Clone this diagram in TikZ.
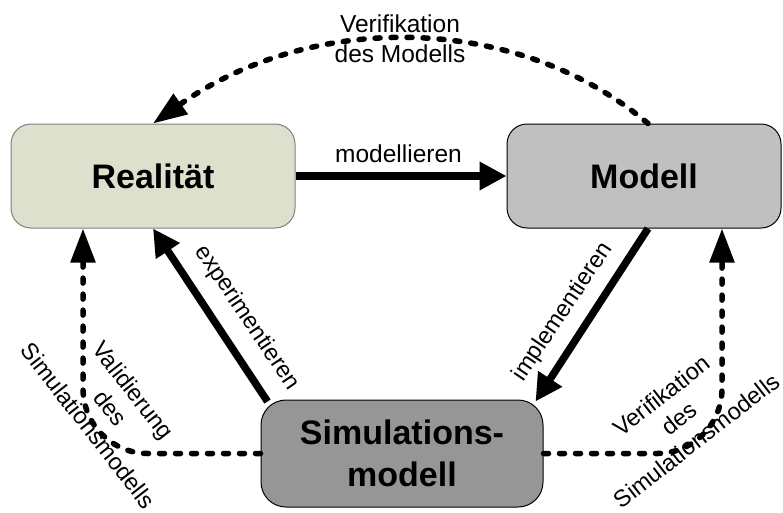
\documentclass[tikz,border=0pt]{standalone}
\usepackage{fontspec}
\setmainfont{Liberation Sans}
\usetikzlibrary{arrows.meta}
\definecolor{realfill}{RGB}{221,224,204}
\definecolor{realdraw}{RGB}{128,128,128}
\definecolor{modfill}{RGB}{192,192,192}
\definecolor{simfill}{RGB}{150,150,150}
\begin{document}
\begin{tikzpicture}[x=1pt,y=-1pt,
 box/.style={rounded corners=20pt, inner sep=0pt, font=\fontsize{34}{42}\selectfont\bfseries, align=center, line width=1pt},
 solidarrow/.style={line width=7.5pt, -{Triangle[length=27pt,width=27pt]}},
 dasharrow/.style={line width=5.5pt, dash pattern=on 5pt off 11pt, line cap=round, -{Triangle[length=34pt,width=24pt]}},
 lbl/.style={font=\fontsize{24.5}{30}\selectfont, inner sep=0pt, align=center},
 rlbl/.style={font=\fontsize{23.5}{28.5}\selectfont, inner sep=0pt, align=center}]
\useasboundingbox (0,0) rectangle (783,512);
\node[box, draw=realdraw, fill=realfill, minimum width=284pt, minimum height=104pt] (R) at (153,176) {Realität};
\node[box, draw=black, fill=modfill, minimum width=274pt, minimum height=104pt] (M) at (644,176) {Modell};
\node[box, draw=black, fill=simfill, rounded corners=25pt, minimum width=282pt, minimum height=107pt] (S) at (402,453.5) {Simulations-\\modell};
% solid arrows
\draw[solidarrow] (R.east) -- (M.west);
\node[lbl, anchor=base] (lmod) at (398.5,162) {modellieren};
\draw[solidarrow] ([shift={(7,2)}]S.north west) -- (R.south);
\node[rlbl, rotate=-56] (lexp) at (247,318) {experimentieren};
\draw[solidarrow] ([xshift=4pt]M.south) -- ([shift={(-8,2)}]S.north east);
\node[rlbl, rotate=56] (limp) at (563,312) {implementieren};
% dashed arrows
\draw[dasharrow] ([xshift=4pt]M.north) .. controls (516,12) and (311,12) .. (R.north);
\node[lbl, anchor=north] (ltop) at (400,15) {Verifikation\\des Modells};
\coordinate (rl) at ([xshift=-70pt]R.south);
\draw[dasharrow, rounded corners=65pt] (S.west) -- (S.west -| rl) -- (rl);
\node[rlbl, rotate=-52] (lval) at (111,408) {Validierung\\des\\Simulationsmodells};
\coordinate (mr) at ([xshift=78pt]M.south);
\draw[dasharrow, rounded corners=65pt] (S.east) -- (S.east -| mr) -- (mr);
\node[rlbl, rotate=38] (lver) at (679,418) {Verifikation\\des\\Simulationsmodells};
\end{tikzpicture}
\end{document}
